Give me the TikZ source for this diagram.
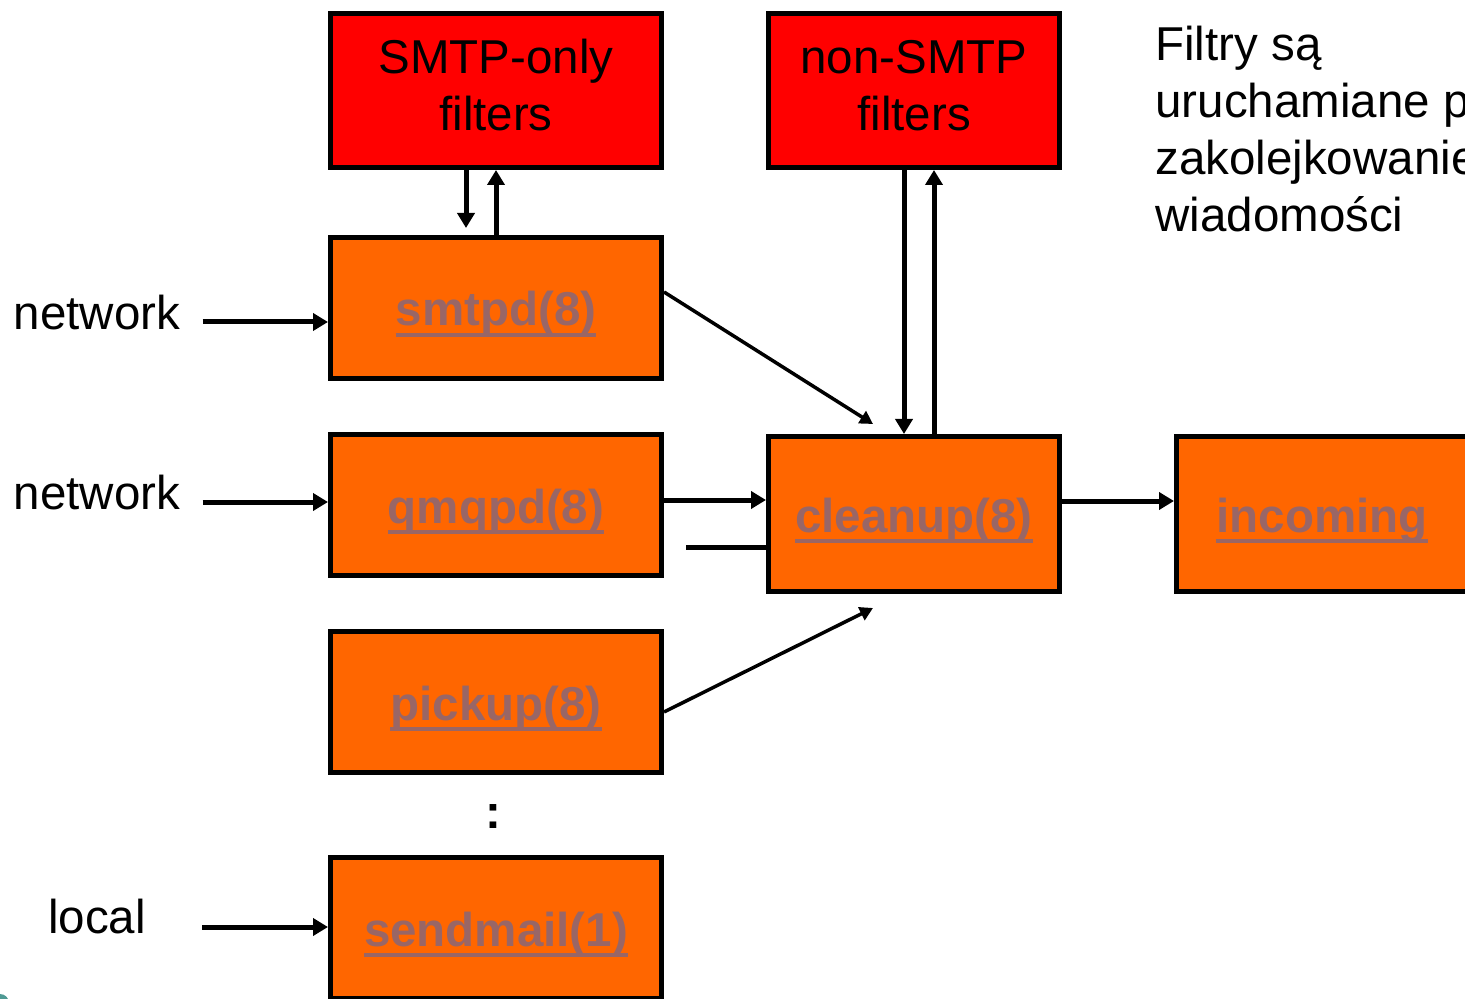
\documentclass[tikz,border=0pt]{standalone}
\usepackage{fontspec}
\setmainfont{Liberation Sans}
\usetikzlibrary{arrows.meta}

\definecolor{pfxorange}{RGB}{255,102,0}
\definecolor{pfxred}{RGB}{255,0,0}
\definecolor{pfxlink}{RGB}{153,102,102}
\definecolor{pfxteal}{RGB}{79,154,148}

% program names are set bold and underlined, like links
\newsavebox\progbox
\newcommand{\prog}[1]{{\color{pfxlink}\bfseries\sbox\progbox{#1}%
  \rlap{\rule[-5.5pt]{\wd\progbox}{2pt}}\usebox\progbox}}
% two centred lines for the filter boxes
\newcommand{\twolines}[2]{\begin{tabular}{@{}c@{}}#1\\#2\end{tabular}}

\begin{document}
\begin{tikzpicture}[x=0.5pt,y=-0.5pt,
  font=\fontsize{23.75pt}{28.5pt}\selectfont,
  proc/.style={rectangle,draw,line width=2.5pt,fill=pfxorange,inner sep=0pt,
    text height=23.5pt,text depth=5.5pt,
    minimum width=165.5pt,minimum height=70.5pt},
  filt/.style={rectangle,draw,line width=2.5pt,fill=pfxred,inner sep=0pt,
    minimum width=165.5pt,minimum height=77pt},
  src/.style={inner sep=0pt},
  pipe/.style={line width=2.5pt,-{Triangle[length=7.5pt,width=8.5pt]}},
  feed/.style={line width=1.75pt,-{Triangle[length=6.5pt,width=7pt]}}]
  \useasboundingbox (0,0) rectangle (1465,999);
  \clip (0,0) rectangle (1465,999);
  \fill[white] (0,0) rectangle (1465,999);
  \fill[pfxteal] (0,1003) circle (4.5pt);

  % filters
  \node[filt] (smtpfilt) at (496,90.5) {\twolines{SMTP-only}{filters}};
  \node[filt,minimum width=145.5pt] (nonfilt) at (914,90.5) {\twolines{non-SMTP}{filters}};
  % daemons
  \node[proc] (smtpd) at (496,308) {\prog{smtpd(8)}};
  \node[proc] (qmqpd) at (496,505) {\prog{qmqpd(8)}};
  \node[proc] (pickup) at (496,702) {\prog{pickup(8)}};
  \node[proc] (sendmail) at (496,928) {\prog{sendmail(1)}};
  \node[proc,minimum width=145.5pt,minimum height=77.5pt] (cleanup) at (914,514) {\prog{cleanup(8)}};
  \node[proc,minimum width=145.5pt,minimum height=77.5pt] (incoming) at (1322,514) {\prog{incoming}};
  % sources
  \node[src] (net1) at (97,313) {network};
  \node[src] (net2) at (97,493) {network};
  \node[src] (local) at (97,917) {local};
  \node[src] (dots) at (493,817) {\textbf{:}};
  \node[src,anchor=north west,align=left] (note) at (1155,26)
    {Filtry są\\uruchamiane przed\\zakolejkowaniem\\wiadomości};

  \draw[pipe]([xshift=11pt,yshift=-4.5pt]net1.east)--([yshift=-7pt]smtpd.west);
  \draw[pipe]([xshift=11pt,yshift=-4.5pt]net2.east)--([yshift=1.5pt]qmqpd.west);
  \draw[pipe]([xshift=28pt,yshift=-5pt]local.east)--([yshift=0.5pt]sendmail.west);

  \draw[pipe]([xshift=-15pt]smtpfilt.south)--([xshift=-15pt,yshift=3.5pt]smtpd.north);
  \draw[pipe](smtpd.north)--(smtpfilt.south);
  \draw[pipe]([xshift=-5pt]nonfilt.south)--([xshift=-5pt]cleanup.north);
  \draw[pipe]([xshift=10pt]cleanup.north)--([xshift=10pt]nonfilt.south);

  \draw[feed]([yshift=8pt]smtpd.east)--([xshift=-20.5pt,yshift=5pt]cleanup.north);
  \draw[feed]([yshift=-5pt]pickup.east)--([xshift=-20.5pt,yshift=-7pt]cleanup.south);
  \draw[pipe]([yshift=2.5pt]qmqpd.east)--([yshift=7pt]cleanup.west);
  \coordinate (stub) at (686,547);
  \draw[line width=2.5pt](stub)--(stub-|cleanup.west);
  \draw[pipe]([yshift=6.5pt]cleanup.east)--([yshift=6.5pt]incoming.west);
\end{tikzpicture}
\end{document}
